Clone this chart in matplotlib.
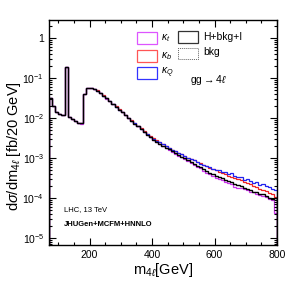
import numpy as np
import matplotlib
matplotlib.use('Agg')
import matplotlib.pyplot as plt
from matplotlib.patches import Rectangle
from matplotlib.ticker import FixedLocator, FuncFormatter, LogLocator, NullFormatter

plt.rcParams['font.family'] = ['Liberation Sans', 'DejaVu Sans']
plt.rcParams['mathtext.fontset'] = 'custom'
plt.rcParams['mathtext.rm'] = 'Liberation Sans'
plt.rcParams['mathtext.it'] = 'Liberation Sans:italic'
plt.rcParams['mathtext.bf'] = 'Liberation Sans:bold'

# m4l bin edges (GeV), 10 GeV bins from 70 to 800
edges = np.arange(70, 801, 10)

# log10 of dsigma/dm4l, one value per bin
log_sig = [-1.49, -1.70, -1.85, -1.90, -1.92, -0.73, -1.97, -2.02, -2.08, -2.12,
           -2.13, -1.40, -1.24, -1.25, -1.28, -1.32, -1.38, -1.44, -1.51, -1.58,
           -1.65, -1.72, -1.79, -1.86, -1.93, -2.00, -2.07, -2.14, -2.21, -2.28,
           -2.35, -2.42, -2.48, -2.54, -2.59, -2.64, -2.69, -2.74, -2.78, -2.83,
           -2.88, -2.92, -2.97, -3.01, -3.06, -3.10, -3.14, -3.19, -3.23, -3.28,
           -3.33, -3.37, -3.41, -3.44, -3.48, -3.51, -3.55, -3.58, -3.61, -3.65,
           -3.68, -3.71, -3.74, -3.77, -3.80, -3.84, -3.85, -3.90, -3.91, -3.96,
           -3.99, -4.03, -3.99]
log_kt = [-1.49, -1.70, -1.85, -1.90, -1.93, -0.73, -1.97, -2.03, -2.08, -2.13,
          -2.14, -1.40, -1.24, -1.25, -1.28, -1.32, -1.38, -1.44, -1.52, -1.58,
          -1.65, -1.72, -1.79, -1.86, -1.93, -2.00, -2.07, -2.14, -2.21, -2.28,
          -2.35, -2.42, -2.48, -2.54, -2.59, -2.65, -2.70, -2.74, -2.79, -2.84,
          -2.89, -2.94, -2.98, -3.03, -3.08, -3.12, -3.17, -3.22, -3.26, -3.32,
          -3.37, -3.41, -3.46, -3.49, -3.52, -3.55, -3.60, -3.63, -3.66, -3.72,
          -3.74, -3.75, -3.77, -3.80, -3.84, -3.86, -3.91, -3.93, -3.95, -3.97,
          -4.03, -4.04, -4.38]
log_kb = [-1.49, -1.70, -1.85, -1.90, -1.92, -0.73, -1.97, -2.02, -2.08, -2.12,
          -2.13, -1.40, -1.24, -1.24, -1.27, -1.31, -1.37, -1.43, -1.50, -1.57,
          -1.64, -1.71, -1.78, -1.85, -1.92, -1.99, -2.06, -2.13, -2.19, -2.26,
          -2.33, -2.40, -2.46, -2.51, -2.56, -2.61, -2.65, -2.70, -2.74, -2.79,
          -2.83, -2.87, -2.91, -2.95, -2.99, -3.02, -3.06, -3.10, -3.13, -3.17,
          -3.20, -3.24, -3.27, -3.30, -3.34, -3.37, -3.41, -3.44, -3.47, -3.50,
          -3.53, -3.56, -3.60, -3.63, -3.66, -3.70, -3.73, -3.77, -3.80, -3.83,
          -3.87, -3.91, -3.97]
log_kq = [-1.49, -1.70, -1.85, -1.90, -1.92, -0.73, -1.97, -2.02, -2.08, -2.12,
          -2.13, -1.40, -1.24, -1.25, -1.28, -1.32, -1.38, -1.44, -1.51, -1.58,
          -1.65, -1.72, -1.79, -1.86, -1.93, -2.00, -2.07, -2.13, -2.20, -2.27,
          -2.34, -2.41, -2.47, -2.52, -2.57, -2.61, -2.66, -2.70, -2.75, -2.79,
          -2.83, -2.88, -2.91, -2.95, -2.99, -3.03, -3.06, -3.09, -3.14, -3.17,
          -3.19, -3.23, -3.27, -3.29, -3.30, -3.34, -3.36, -3.39, -3.38, -3.44,
          -3.47, -3.48, -3.55, -3.53, -3.58, -3.62, -3.60, -3.67, -3.65, -3.70,
          -3.72, -3.77, -3.80]

series = [('kt', log_kt, '#cc33ee', r'$\kappa_t$'),
          ('kb', log_kb, '#ee2222', r'$\kappa_b$'),
          ('kq', log_kq, '#2222ee', r'$\kappa_Q$')]

W, H = 291, 282
fig = plt.figure(figsize=(W / 100, H / 100), dpi=100)
x0, x1, y0, y1 = 49, 277, 20, 245          # axes frame in pixels
ax = fig.add_axes([x0 / W, 1 - y1 / H, (x1 - x0) / W, (y1 - y0) / H])


def px(x, y):
    """pixel position in the picture -> axes fraction"""
    return (x - x0) / (x1 - x0), 1 - (y - y0) / (y1 - y0)


for name, vals, col, lab in series:
    ax.stairs(np.power(10.0, vals), edges, color=col, lw=0.9)
ax.stairs(np.power(10.0, log_sig), edges, color='black', lw=1.0)

ax.set_yscale('log')
ax.set_xlim(70, 800)
ax.set_ylim(6.7e-6, 2.8)

ax.xaxis.set_major_locator(FixedLocator([200, 400, 600, 800]))
ax.xaxis.set_minor_locator(FixedLocator(np.arange(100, 800, 50)))
ax.yaxis.set_major_locator(LogLocator(base=10, numticks=20))
ax.yaxis.set_minor_locator(LogLocator(base=10, subs=np.arange(2, 10), numticks=20))
ax.yaxis.set_minor_formatter(NullFormatter())


def ylab(v, pos):
    e = int(round(np.log10(v)))
    return '1' if e == 0 else r'$10^{%d}$' % e


ax.yaxis.set_major_formatter(FuncFormatter(ylab))
ax.tick_params(which='both', direction='in', top=True, right=True,
               labelsize=7.5, width=0.8)
ax.tick_params(which='major', length=5)
ax.tick_params(which='minor', length=2.5)
for sp in ax.spines.values():
    sp.set_linewidth(1.0)

ax.set_xlabel(r'm$_{4\ell}$[GeV]', fontsize=10.5, labelpad=1)
ax.set_ylabel(r'd$\sigma$/dm$_{4\ell}$ [fb/20 GeV]', fontsize=10.5)
ax.yaxis.set_label_coords(-0.115, 0.44)

# legend, drawn as open boxes like the original
boxes = [((137, 32), '#dd55ff'), ((137, 50), '#ff5555'), ((137, 67), '#3333ff')]
for ((bx, by), col), (_, _, _, lab) in zip(boxes, series):
    fx, fy = px(bx, by + 12)
    ax.add_patch(Rectangle((fx, fy), 20 / 228, 12 / 225, transform=ax.transAxes,
                           fill=False, ec=col, lw=0.9, clip_on=False))
    tx, ty = px(161, by + 6)
    ax.text(tx, ty, lab, transform=ax.transAxes, fontsize=7.5, va='center')

fx, fy = px(178, 43)
ax.add_patch(Rectangle((fx, fy), 20 / 228, 12 / 225, transform=ax.transAxes,
                       fill=False, ec='0.2', lw=0.9))
ax.text(*px(203, 37), 'H+bkg+I', transform=ax.transAxes, fontsize=7.5, va='center')
fx, fy = px(178, 59)
ax.add_patch(Rectangle((fx, fy), 20 / 228, 11 / 225, transform=ax.transAxes,
                       fill=False, ec='0.4', lw=0.7, ls=(0, (1, 1))))
ax.text(*px(203, 52), 'bkg', transform=ax.transAxes, fontsize=7.5, va='center')
ax.text(*px(190, 80), r'gg$\rightarrow$4$\ell$', transform=ax.transAxes,
        fontsize=7.5, va='center')

ax.text(*px(64, 210), 'LHC, 13 TeV', transform=ax.transAxes, fontsize=5.5,
        va='center')
ax.text(*px(64, 224), 'JHUGen+MCFM+HNNLO', transform=ax.transAxes, fontsize=5.5,
        va='center', fontweight='bold')

fig.savefig('out.png', dpi=100)
